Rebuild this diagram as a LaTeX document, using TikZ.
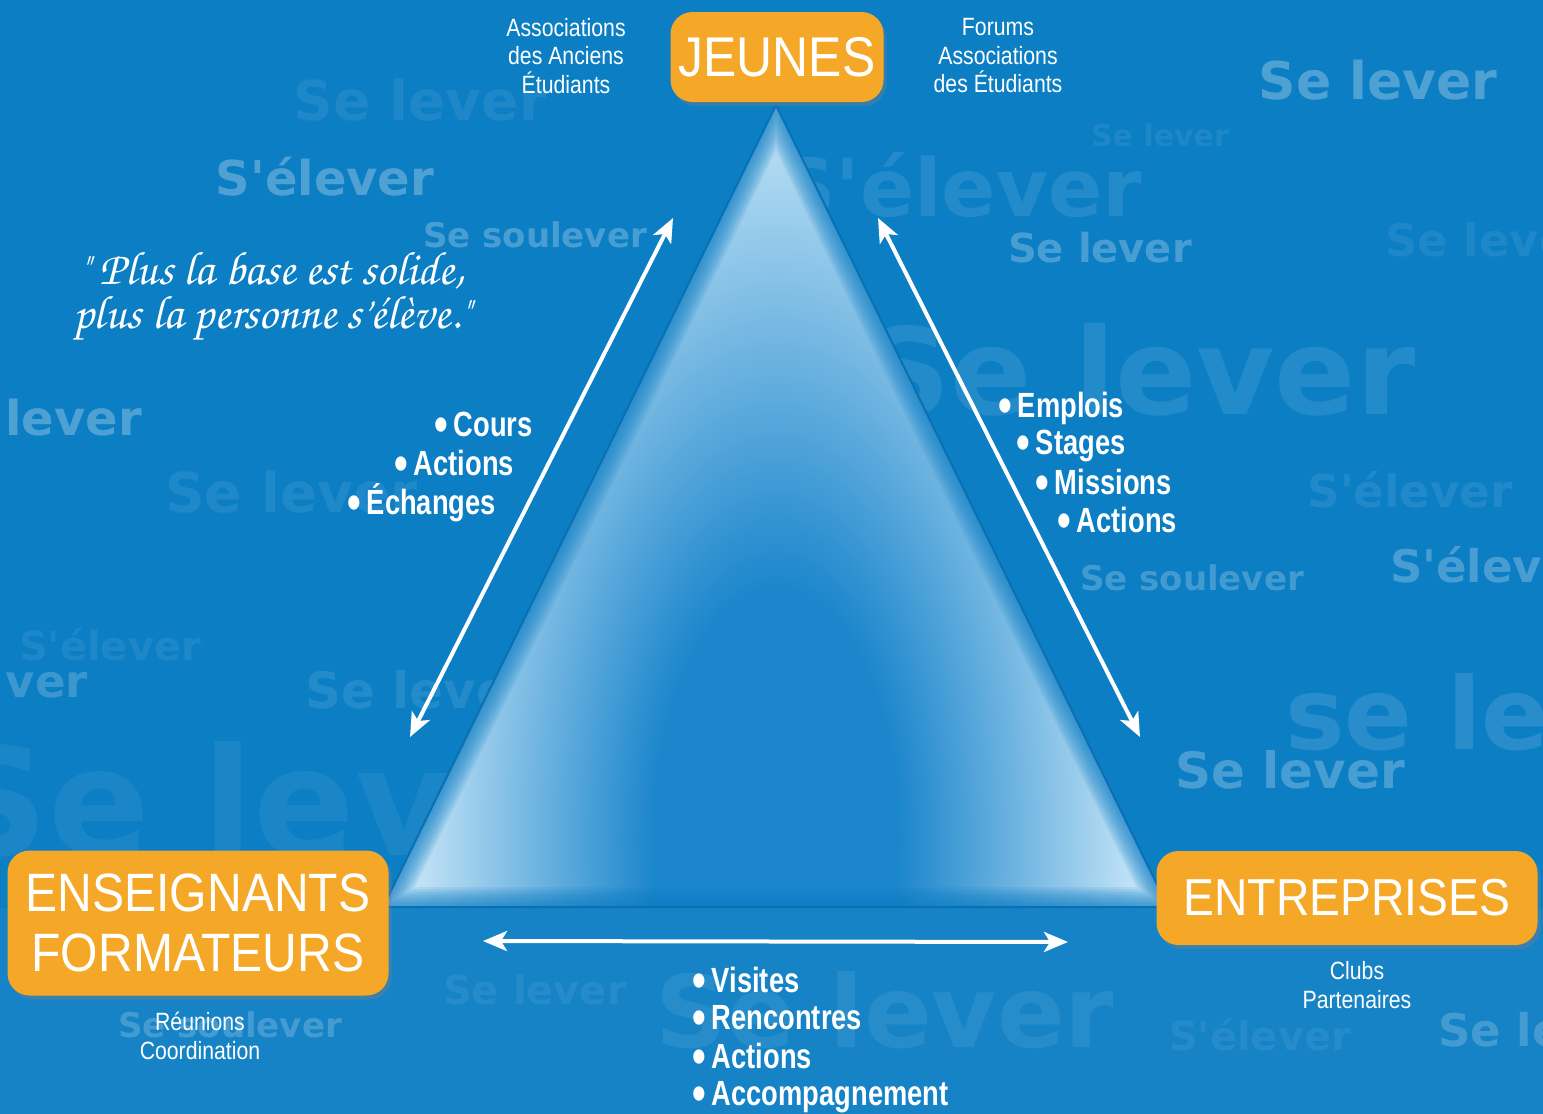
\documentclass[tikz,border=0pt]{standalone}
\usepackage{fontspec}
\setmainfont{Liberation Sans}
\newfontfamily\condfont[FakeStretch=0.85]{Liberation Sans}
\newfontfamily\boxfont[FakeStretch=0.89]{Liberation Sans}
\newfontfamily\itemfont[FakeStretch=0.78]{Liberation Sans}
\newfontfamily\markfont{DejaVu Sans}
\newfontfamily\quotefont{texgyrechorus-mediumitalic.otf}
\usetikzlibrary{arrows.meta,shadows}
\definecolor{bgblue}{RGB}{12,126,196}
\definecolor{edgeblue}{RGB}{10,112,180}
\definecolor{boxorange}{RGB}{245,168,40}
\definecolor{trilight}{RGB}{202,231,248}
\definecolor{tridark}{RGB}{28,134,204}
\pgfdeclareradialshading{glow}{\pgfpoint{0bp}{0bp}}{color(0bp)=(tridark); color(7bp)=(tridark); color(21bp)=(trilight); color(50bp)=(trilight)}
\newcommand{\bul}{\raisebox{-5pt}{\fontsize{50}{38}\selectfont•}\hspace{6pt}}
\tikzset{
  pole/.style = {fill=boxorange, text=white, rounded corners=22pt, align=center,
    drop shadow={opacity=0.35, shadow xshift=3pt, shadow yshift=-4pt}},
  side label/.style = {text=white, align=center, font=\condfont\fontsize{25}{28.5}\selectfont},
  item/.style = {text=white, anchor=west, inner sep=0pt,
    font=\itemfont\bfseries\fontsize{35}{38}\selectfont},
  link/.style = {draw=white, line width=4pt,
    {Stealth[length=24pt,width=20pt,inset=6pt]}-{Stealth[length=24pt,width=20pt,inset=6pt]}},
  watermark/.style = {text=white, inner sep=0pt, font=\markfont\bfseries}
}

\begin{document}
\begin{tikzpicture}[x=1pt,y=-1pt]
  \useasboundingbox (0,0) rectangle (1543,1114);
  \fill[bgblue] (0,0) rectangle (1543,1114);
  \fill[white, opacity=.04] (0,908) rectangle (1543,1114);

  % faint background words
  \begin{scope}
    \clip (0,0) rectangle (1543,1114);
    \node[watermark,text opacity=.28,font=\markfont\bfseries\fontsize{52}{52}\selectfont] (w1) at (1378,80) {Se lever};
    \node[watermark,text opacity=.28,font=\markfont\bfseries\fontsize{48}{48}\selectfont] (w2) at (325,177) {S'élever};
    \node[watermark,text opacity=.25,font=\markfont\bfseries\fontsize{34}{34}\selectfont] (w3) at (535,235) {Se soulever};
    \node[watermark,text opacity=.25,font=\markfont\bfseries\fontsize{40}{40}\selectfont] (w4) at (1100,248) {Se lever};
    \node[watermark,text opacity=.10,font=\markfont\bfseries\fontsize{120}{120}\selectfont] (w5) at (1140,370) {Se lever};
    \node[watermark,text opacity=.28,font=\markfont\bfseries\fontsize{48}{48}\selectfont,anchor=west] (w6) at (5,418) {lever};
    \node[watermark,text opacity=.22,font=\markfont\bfseries\fontsize{34}{34}\selectfont] (w7) at (1192,578) {Se soulever};
    \node[watermark,text opacity=.25,font=\markfont\bfseries\fontsize{45}{45}\selectfont,anchor=west] (w8) at (1390,565) {S'élever};
    \node[watermark,text opacity=.25,font=\markfont\bfseries\fontsize{50}{50}\selectfont] (w9) at (1290,770) {Se lever};
    \node[watermark,text opacity=.12,font=\markfont\bfseries\fontsize{100}{100}\selectfont,anchor=west] (w10) at (1285,712) {se lever};
    \node[watermark,text opacity=.20,font=\markfont\bfseries\fontsize{45}{45}\selectfont,anchor=east] (w11) at (88,685) {ver};
    \node[watermark,text opacity=.10,font=\markfont\bfseries\fontsize{80}{80}\selectfont] (w12) at (960,185) {S'élever};
    \node[watermark,text opacity=.07,font=\markfont\bfseries\fontsize{55}{55}\selectfont] (w13) at (420,100) {Se lever};
    \node[watermark,text opacity=.07,font=\markfont\bfseries\fontsize{40}{40}\selectfont] (w14) at (535,990) {Se lever};
    \node[watermark,text opacity=.20,font=\markfont\bfseries\fontsize{34}{34}\selectfont] (w15) at (230,1025) {Se soulever};
    \node[watermark,text opacity=.20,font=\markfont\bfseries\fontsize{45}{45}\selectfont,anchor=west] (w16) at (1438,1030) {Se lever};
    \node[watermark,text opacity=.07,font=\markfont\bfseries\fontsize{30}{30}\selectfont] (w17) at (1160,135) {Se lever};
    \node[watermark,text opacity=.06,font=\markfont\bfseries\fontsize{150}{150}\selectfont,anchor=west] (w18) at (-60,800) {Se lever};
    \node[watermark,text opacity=.08,font=\markfont\bfseries\fontsize{55}{55}\selectfont,anchor=west] (w19) at (165,492) {Se lever};
    \node[watermark,text opacity=.10,font=\markfont\bfseries\fontsize{50}{50}\selectfont] (w20) at (420,690) {Se lever};
    \node[watermark,text opacity=.08,font=\markfont\bfseries\fontsize{100}{100}\selectfont,anchor=west] (w21) at (655,1010) {Se lever};
    \node[watermark,text opacity=.07,font=\markfont\bfseries\fontsize{40}{40}\selectfont] (w22) at (110,645) {S'élever};
    \node[watermark,text opacity=.07,font=\markfont\bfseries\fontsize{45}{45}\selectfont,anchor=west] (w23) at (1385,240) {Se lever};
    \node[watermark,text opacity=.09,font=\markfont\bfseries\fontsize{45}{45}\selectfont] (w24) at (1410,490) {S'élever};
    \node[watermark,text opacity=.07,font=\markfont\bfseries\fontsize{40}{40}\selectfont] (w25) at (1260,1035) {S'élever};
  \end{scope}

  % the triangle
  \coordinate (apex) at (776,105);
  \coordinate (left corner) at (383,907);
  \coordinate (right corner) at (1168,907);
  \begin{scope}
    \clip (apex) -- (left corner) -- (right corner) -- cycle;
    \shade[shading=glow] (776,840) ellipse [x radius=440, y radius=900];
    \foreach \w in {40,36,...,4}
      \draw[bgblue, line width=\w pt, opacity=.11, line join=round] (apex) -- (left corner) -- (right corner) -- cycle;
  \end{scope}
  \draw[edgeblue, line width=2pt, line join=round] (apex) -- (left corner) -- (right corner) -- cycle;

  % arrows
  \coordinate (l low) at (410,737);
  \coordinate (l high) at (673,218);
  \coordinate (r high) at (878,218);
  \coordinate (r low) at (1140,737);
  \coordinate (b left) at (483,941);
  \coordinate (b right) at (1068,942);
  \draw[link] (l low) -- (l high);
  \draw[link] (r high) -- (r low);
  \draw[link] (b left) -- (b right);

  % poles
  \node[pole, minimum width=213pt, minimum height=90pt,
    font=\boxfont\fontsize{56}{60}\selectfont] (jeunes) at (777,57) {JEUNES};
  \node[pole, minimum width=381pt, minimum height=145pt,
    font=\boxfont\fontsize{54}{60}\selectfont] (enseignants) at (198,923) {ENSEIGNANTS\\FORMATEURS};
  \node[pole, minimum width=381pt, minimum height=94pt,
    font=\boxfont\fontsize{52}{56}\selectfont] (entreprises) at (1347,898) {ENTREPRISES};

  \node[side label] (anciens) at (566,56) {Associations\\des Anciens\\Étudiants};
  \node[side label] (forums) at (998,56) {Forums\\Associations\\des Étudiants};
  \node[side label] (reunions) at (200,1036) {Réunions\\Coordination};
  \node[side label] (clubs) at (1357,985) {Clubs\\Partenaires};

  % quote
  \node[text=white, align=center, font=\quotefont\fontsize{47}{44}\selectfont] (quote) at (272,296)
    {" Plus la base est solide,\\plus la personne s’élève."};

  % lists
  \node[item] (cours) at (434,427) {\bul Cours};
  \node[item] (actions1) at (394,465) {\bul Actions};
  \node[item] (echanges) at (347,503) {\bul Échanges};

  \node[item] (emplois) at (998,408) {\bul Emplois};
  \node[item] (stages) at (1016,446) {\bul Stages};
  \node[item] (missions) at (1035,484) {\bul Missions};
  \node[item] (actions2) at (1057,522) {\bul Actions};

  \node[item] (visites) at (692,982) {\bul Visites};
  \node[item] (rencontres) at (692,1020) {\bul Rencontres};
  \node[item] (actions3) at (692,1058) {\bul Actions};
  \node[item] (accomp) at (692,1097) {\bul Accompagnement};
\end{tikzpicture}
\end{document}
